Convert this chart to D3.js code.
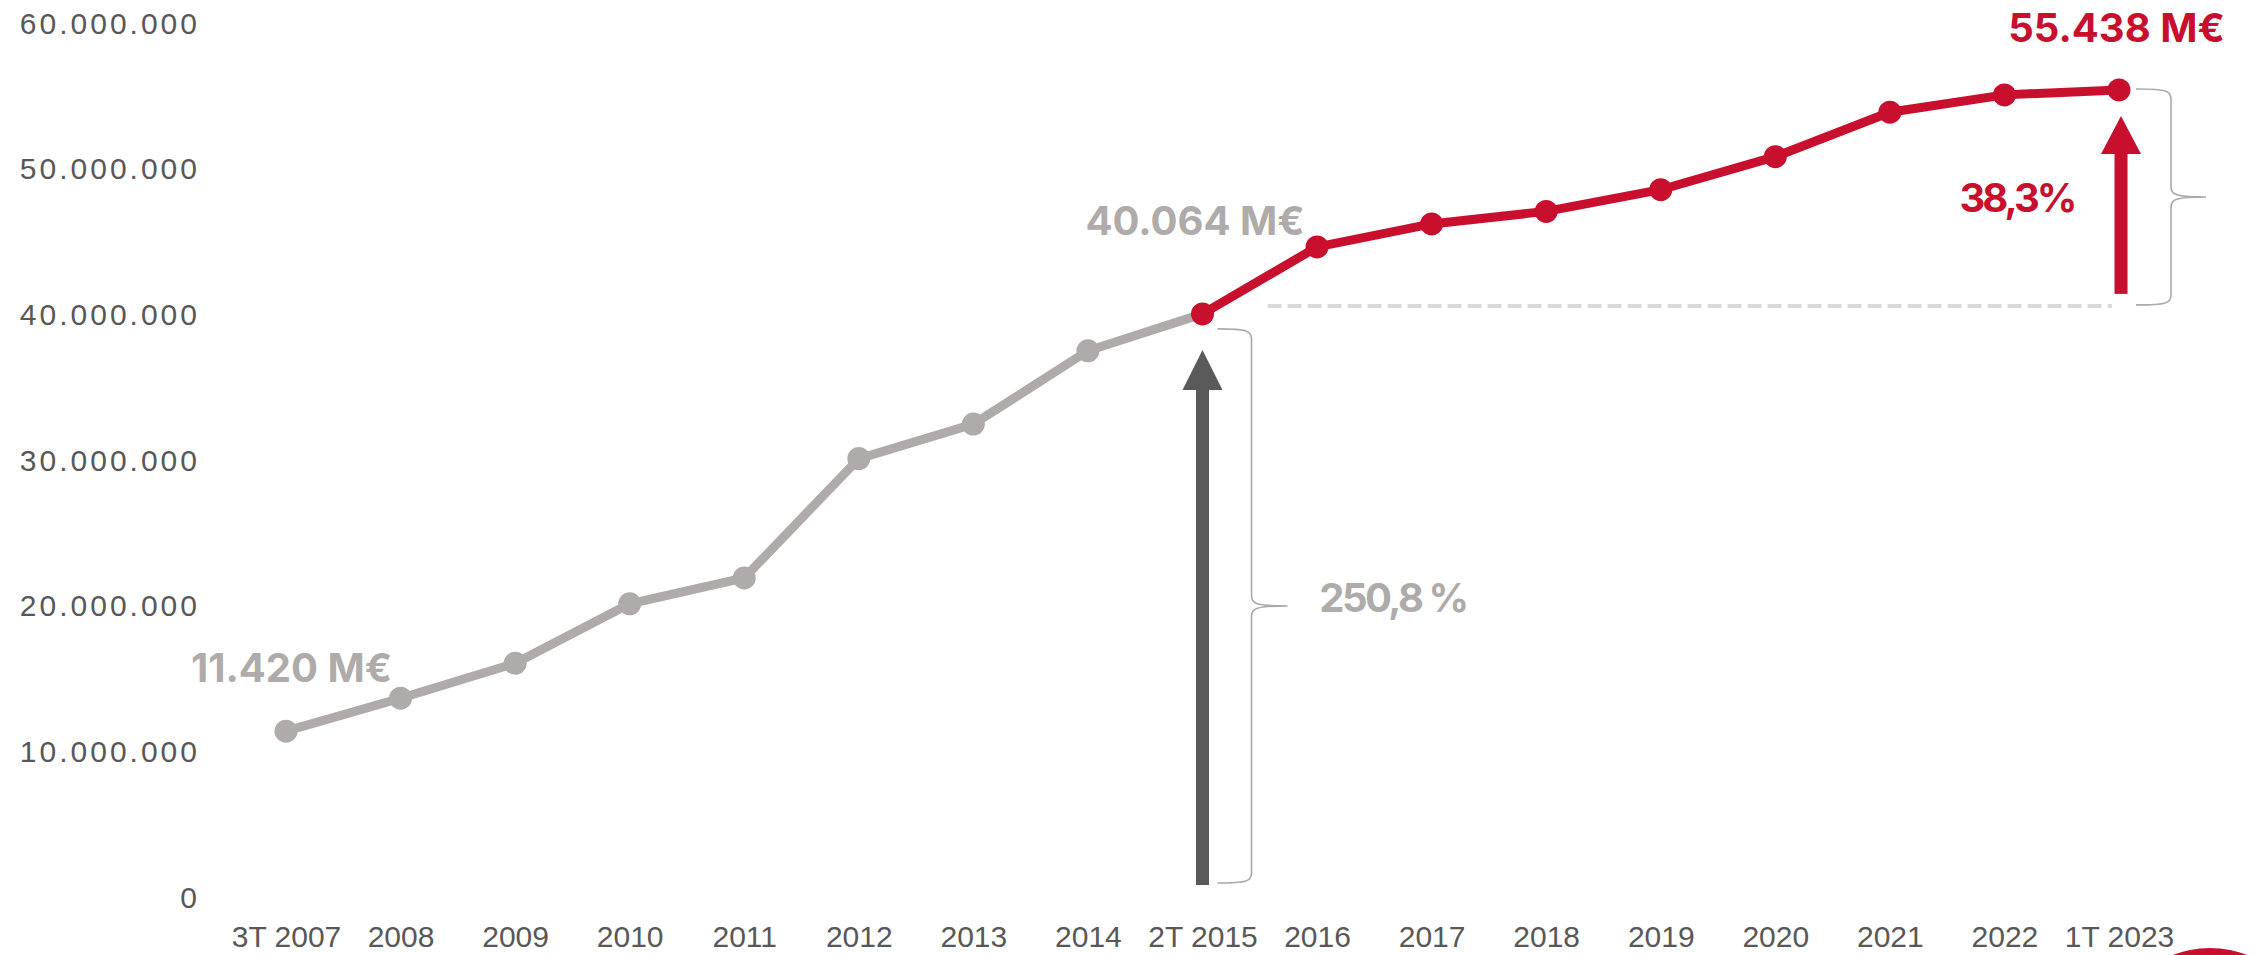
<!DOCTYPE html>
<html>
<head>
<meta charset="utf-8">
<script src="https://cdn.jsdelivr.net/npm/d3@7"></script>
<style>
  html, body { margin: 0; padding: 0; background: #fff; }
  svg { display: block; font-family: Inter, "Noto Sans", sans-serif; }
  .tick text { fill: #585858; font-size: 30px; }
  .y-axis .tick text { letter-spacing: 3px; }
</style>
</head>
<body>
<div class="chart"></div>
<script>
// periods shown on the x axis
const periods = ["3T 2007", "2008", "2009", "2010", "2011", "2012", "2013", "2014", "2T 2015",
  "2016", "2017", "2018", "2019", "2020", "2021", "2022", "1T 2023"];
// values in euros (labelled points exact)
const amounts = [11420000, 13680000, 16080000, 20160000, 21940000, 30130000, 32500000, 37530000, 40064000,
  44660000, 46240000, 47100000, 48590000, 50860000, 53910000, 55100000, 55438000];
const yTicks = [0, 10000000, 20000000, 30000000, 40000000, 50000000, 60000000];
const splitIndex = 8; // 2T 2015, where the red part starts

const width = 2254;
const height = 955;
const grey = "#afabaa";
const red = "#c8102e";
const dark = "#5a5a5a";

const svg = d3.select(".chart")
    .append("svg")
    .attr("width", width)
    .attr("height", height);

const x = d3.scalePoint().domain(periods).range([286, 2119]);
const y = d3.scaleLinear().domain([0, 60000000]).range([897.5, 23.5]);

const dotFormat = d3.formatLocale({decimal: ",", thousands: ".", grouping: [3], currency: ["", "€"]}).format(",d");

const yAxis = d3.axisLeft(y).tickValues(yTicks).tickSize(0).tickPadding(0).tickFormat(dotFormat);
const xAxis = d3.axisBottom(x).tickSize(0).tickPadding(0);

svg.append("g")
    .attr("class", "y-axis")
    .attr("transform", "translate(200,0)")
    .call(yAxis)
    .call(g => g.select(".domain").remove());

svg.append("g")
    .attr("class", "x-axis")
    .attr("transform", "translate(0,926)")
    .call(xAxis)
    .call(g => g.select(".domain").remove());

// dashed reference at the 2015 level
const refY = y(amounts[splitIndex]) - 8;
svg.append("line")
    .attr("x1", x(periods[splitIndex]) + 65)
    .attr("x2", x(periods[periods.length - 1]) - 7)
    .attr("y1", refY)
    .attr("y2", refY)
    .attr("stroke", "#d9d9d9")
    .attr("stroke-width", 4)
    .attr("stroke-dasharray", "14 6");

// curly brace, tip pointing right
function brace(bx, y0, y1, leftX, tipX) {
    const mid = (y0 + y1) / 2;
    const r = 10;
    const p = d3.path();
    p.moveTo(leftX, y0);
    p.bezierCurveTo(bx - 4, y0, bx, y0 + 2, bx, y0 + r);
    p.lineTo(bx, mid - r);
    p.bezierCurveTo(bx, mid - 2, bx + 6, mid, tipX, mid);
    p.bezierCurveTo(bx + 6, mid, bx, mid + 2, bx, mid + r);
    p.lineTo(bx, y1 - r);
    p.bezierCurveTo(bx, y1 - 2, bx - 4, y1, leftX, y1);
    svg.append("path")
        .attr("d", p.toString())
        .attr("fill", "none")
        .attr("stroke", "#aaaaaa")
        .attr("stroke-width", 1.6);
}

function arrow(ax, yBottom, yTop, headH, color) {
    const headW = 40, shaftW = 13;
    svg.append("rect")
        .attr("x", ax - shaftW / 2)
        .attr("y", yTop + headH - 1)
        .attr("width", shaftW)
        .attr("height", yBottom - yTop - headH + 1)
        .attr("fill", color);
    svg.append("path")
        .attr("d", `M${ax - headW / 2},${yTop + headH} L${ax},${yTop} L${ax + headW / 2},${yTop + headH} Z`)
        .attr("fill", color);
}

const x15 = x(periods[splitIndex]);
const x23 = x(periods[periods.length - 1]);
const y15 = y(amounts[splitIndex]);
const y23 = y(amounts[amounts.length - 1]);

arrow(x15, y(0) - 12.5, y15 + 36, 40, dark);
brace(x15 + 49, y15 + 15, y(0) - 14.5, x15 + 15, x15 + 85);

arrow(x23 + 2, refY - 12, y23 + 26, 38, red);
brace(x23 + 52, y23 - 1, refY - 1, x23 + 17, x23 + 87);

// lines
const line = d3.line()
    .x(d => x(d.period))
    .y(d => y(d.value));
const points = periods.map((p, i) => ({period: p, value: amounts[i]}));
const greyPart = points.slice(0, splitIndex + 1);
const redPart = points.slice(splitIndex);

svg.append("path")
    .datum(greyPart)
    .attr("d", line)
    .attr("fill", "none")
    .attr("stroke", grey)
    .attr("stroke-width", 9);

svg.append("path")
    .datum(redPart)
    .attr("d", line)
    .attr("fill", "none")
    .attr("stroke", red)
    .attr("stroke-width", 9);

svg.selectAll("circle.dot")
    .data(points)
    .enter()
    .append("circle")
    .attr("class", "dot")
    .attr("cx", d => x(d.period))
    .attr("cy", d => y(d.value))
    .attr("r", 11.5)
    .attr("fill", (d, i) => i < splitIndex ? grey : red);

// value labels
const labels = [
    {text: "11.420 M€", cx: 291.5, by: 682, color: grey, ls: 0},
    {text: "40.064 M€", cx: 1195, by: 235, color: grey, ls: 0},
    {text: "55.438 M€", cx: 2116.5, by: 42, color: red, ls: 0},
    {text: "38,3%", cx: 2017, by: 212, color: red, ls: -3},
    {text: "250,8 %", cx: 1393, by: 612, color: grey, ls: -2.5}
];
svg.selectAll("text.big")
    .data(labels)
    .enter()
    .append("text")
    .attr("class", "big")
    .attr("x", d => d.cx)
    .attr("y", d => d.by)
    .attr("text-anchor", "middle")
    .attr("fill", d => d.color)
    .style("font-size", "40px")
    .style("font-weight", 700)
    .style("letter-spacing", d => d.ls + "px")
    .text(d => d.text);

// corner mark, mostly off the page
svg.append("circle")
    .attr("cx", 2210)
    .attr("cy", 1051)
    .attr("r", 103)
    .attr("fill", red);
</script>
</body>
</html>
